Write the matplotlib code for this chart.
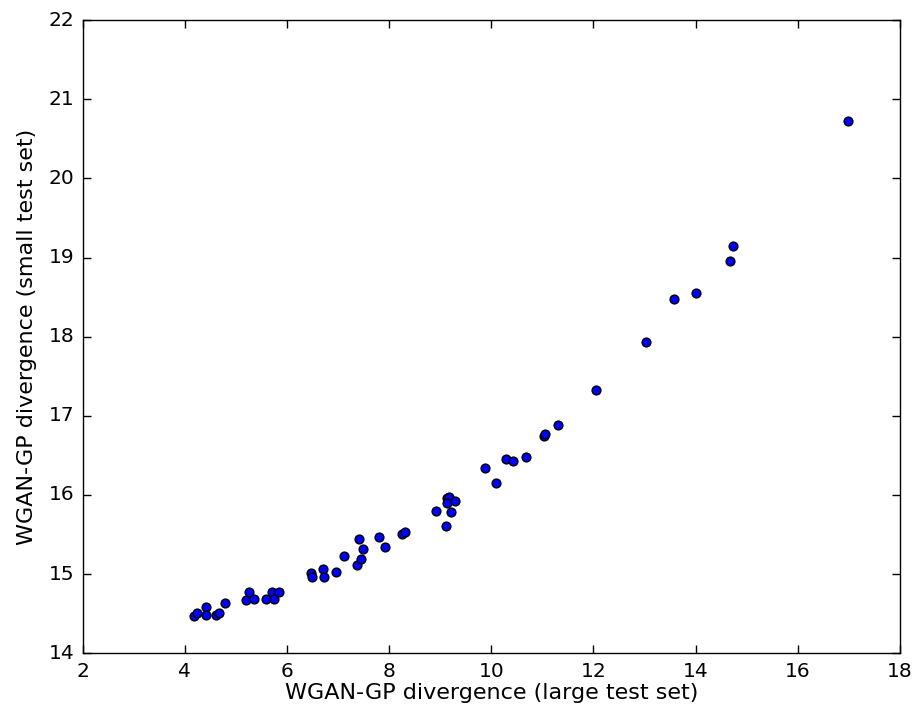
import matplotlib
matplotlib.use("Agg")
import matplotlib.pyplot as plt

large_test = [4.18, 4.25, 4.41, 4.41, 4.61, 4.67, 4.79, 5.20, 5.26, 5.36,
              5.59, 5.70, 5.75, 5.85, 6.47, 6.50, 6.70, 6.73, 6.96, 7.11,
              7.37, 7.45, 7.42, 7.48, 7.81, 7.92, 8.25, 8.31, 8.92, 9.11,
              9.13, 9.17, 9.14, 9.29, 9.21, 9.88, 10.09, 10.29, 10.43, 10.68,
              11.04, 11.06, 11.30, 12.05, 13.03, 13.58, 14.01, 14.68, 14.73, 16.99]
small_test = [14.47, 14.51, 14.59, 14.48, 14.48, 14.51, 14.64, 14.67, 14.78, 14.69,
              14.69, 14.78, 14.69, 14.78, 15.01, 14.97, 15.06, 14.97, 15.03, 15.23,
              15.11, 15.19, 15.44, 15.32, 15.47, 15.34, 15.51, 15.53, 15.80, 15.61,
              15.96, 15.97, 15.90, 15.92, 15.78, 16.34, 16.15, 16.46, 16.43, 16.48,
              16.75, 16.77, 16.88, 17.33, 17.93, 18.48, 18.55, 18.96, 19.15, 20.72]

plt.style.use('classic')
plt.rcParams['font.family'] = ['DejaVu Sans']

fig = plt.figure(figsize=(9.19, 7.17), dpi=100, facecolor='white')
ax = fig.add_axes([0.0898, 0.0888, 0.8895, 0.8833])
ax.scatter(large_test, small_test, s=40, c='b', edgecolors='k', linewidths=1.0, zorder=3)
ax.set_xlim(2, 18)
ax.set_ylim(14, 22)
ax.set_xticks(range(2, 19, 2))
ax.set_yticks(range(14, 23, 1))
ax.tick_params(labelsize=14.5, length=6, width=1, direction='in', top=True, right=True, pad=6)
ax.set_xlabel('WGAN-GP divergence (large test set)', fontsize=16, labelpad=2)
ax.set_ylabel('WGAN-GP divergence (small test set)', fontsize=16, labelpad=8)
ax.set_facecolor('white')
fig.savefig('out.png', dpi=100, facecolor='white')
